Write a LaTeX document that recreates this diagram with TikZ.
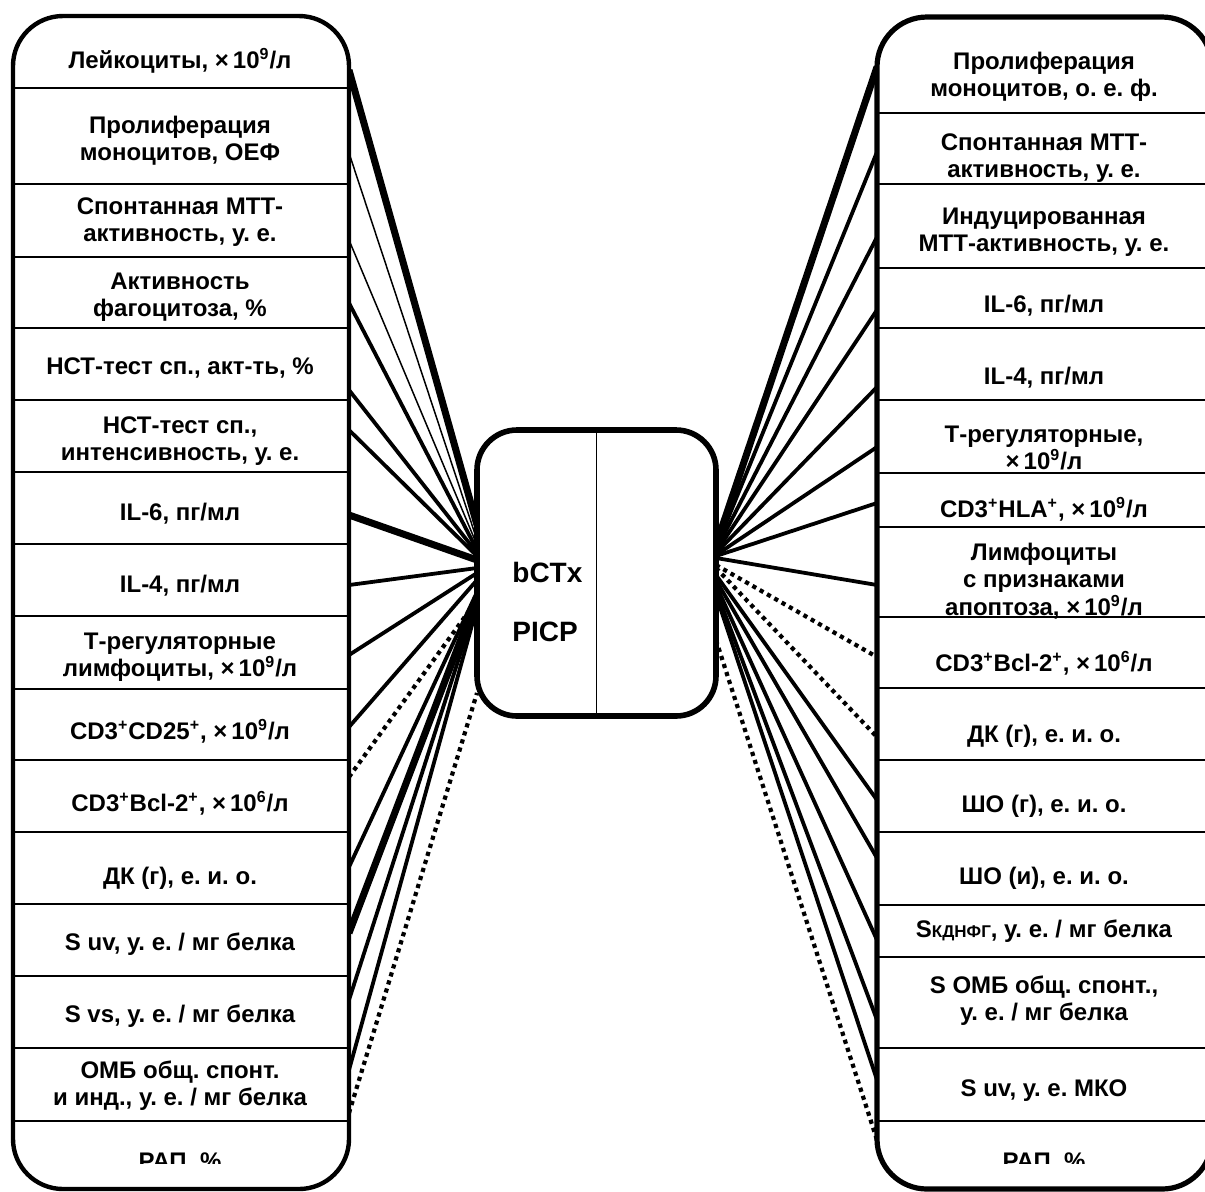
\documentclass[tikz,border=0pt]{standalone}
\usepackage{fontspec}
\setmainfont{Liberation Sans}
\frenchspacing

\begin{document}
\begin{tikzpicture}[x=0.5pt,y=-0.5pt,
    every node/.style={font=\bfseries\fontsize{12}{13.6}\selectfont,align=center,inner sep=0pt},
    frame/.style={line width=2.2pt,rounded corners=25pt,fill=white},
    rowline/.style={line width=0.9pt},
    lnkthin/.style={line width=0.75pt},
    lnk/.style={line width=1.9pt},
    lnkthick/.style={line width=3.5pt},
    lnkdot/.style={line width=2.1pt,dash pattern=on 2.1pt off 2.1pt}]
    \clip (0,0) rectangle (1205,1191);

    % Links, left side
    \foreach \i/\ya/\yb/\s in {1/70/525/lnkthick, 2/153/540/lnkthin, 3/240/545/lnkthin,
        4/303/550/lnk, 5/390/553/lnk, 6/430/556/lnk, 7/515/560/lnkthick, 8/585/568/lnk,
        9/655/573/lnk, 10/727/580/lnk, 11/777/600/lnkdot, 12/867/592/lnk, 13/933/597/lnkthick,
        14/1000/602/lnk, 15/1070/607/lnk, 16/1113/693/lnkdot}{
      \coordinate (la\i) at (349,\ya);
      \coordinate (lb\i) at (477,\yb);
      \draw[\s] (la\i) -- (lb\i);
    }

    % Links, right side
    \foreach \i/\ya/\yb/\s in {1/545/67/lnkthick, 2/548/152/lnk, 3/550/237/lnk,
        4/552/310/lnk, 5/553/387/lnk, 6/555/447/lnk, 7/556/503/lnk, 8/558/585/lnk,
        9/565/657/lnkdot, 10/568/737/lnkdot, 11/575/800/lnk, 12/580/858/lnk,
        13/585/940/lnk, 14/590/1020/lnk, 15/595/1080/lnk, 16/640/1140/lnkdot}{
      \coordinate (ra\i) at (716,\ya);
      \coordinate (rb\i) at (877,\yb);
      \draw[\s] (ra\i) -- (rb\i);
    }

    % Left column
    \draw[frame] (13,16) rectangle (349,1189);
    \foreach \y in {88,184,257,328,400,472,544,616,689,760,832,904,976,1048,1121}
      \draw[rowline] (13,\y) -- (349,\y);
    \node (l1) at (180,61) {Лейкоциты, ×\,10\textsuperscript{9}/л};
    \node (l2) at (180,141) {Пролиферация\\моноцитов, ОЕФ};
    \node (l3) at (180,222) {Спонтанная МТТ-\\активность, у.~е.};
    \node (l4) at (180,297) {Активность\\фагоцитоза, \%};
    \node (l5) at (180,368) {НСТ-тест сп., акт-ть, \%};
    \node (l6) at (180,441) {НСТ-тест сп.,\\интенсивность, у.~е.};
    \node (l7) at (180,514) {IL-6, пг/мл};
    \node (l8) at (180,586) {IL-4, пг/мл};
    \node (l9) at (180,657) {Т-регуляторные\\лимфоциты, ×\,10\textsuperscript{9}/л};
    \node (l10) at (180,731) {CD3\textsuperscript{+}CD25\textsuperscript{+}, ×\,10\textsuperscript{9}/л};
    \node (l11) at (180,803) {CD3\textsuperscript{+}Bcl-2\textsuperscript{+}, ×\,10\textsuperscript{6}/л};
    \node (l12) at (180,878) {ДК (г), е.~и.~о.};
    \node (l13) at (180,944) {S uv, у.~е. / мг белка};
    \node (l14) at (180,1016) {S vs, у.~е. / мг белка};
    \node (l15) at (180,1086) {ОМБ общ. спонт.\\и инд., у.~е. / мг белка};

    % Right column
    \draw[frame,line width=2.6pt] (877,17) rectangle (1212,1189);
    \foreach \y in {113,184,268,328,400,473,527,617,688,760,832,905,957,1048,1121}
      \draw[rowline] (877,\y) -- (1212,\y);
    \node (r1) at (1044,77) {Пролиферация\\моноцитов, о.~е.~ф.};
    \node (r2) at (1044,158) {Спонтанная МТТ-\\активность, у.~е.};
    \node (r3) at (1044,232) {Индуцированная\\МТТ-активность, у.~е.};
    \node (r4) at (1044,306) {IL-6, пг/мл};
    \node (r5) at (1044,378) {IL-4, пг/мл};
    \node (r6) at (1044,448) {Т-регуляторные,\\×\,10\textsuperscript{9}/л};
    \node (r7) at (1044,509) {CD3\textsuperscript{+}HLA\textsuperscript{+}, ×\,10\textsuperscript{9}/л};
    \node (r8) at (1044,581) {Лимфоциты\\с признаками\\апоптоза, ×\,10\textsuperscript{9}/л};
    \node (r9) at (1044,663) {CD3\textsuperscript{+}Bcl-2\textsuperscript{+}, ×\,10\textsuperscript{6}/л};
    \node (r10) at (1044,736) {ДК (г), е.~и.~о.};
    \node (r11) at (1044,806) {ШО (г), е.~и.~о.};
    \node (r12) at (1044,878) {ШО (и), е.~и.~о.};
    \node (r13) at (1044,931) {S{\fontsize{8.5}{9}\selectfont КДНФГ}, у.~е. / мг белка};
    \node (r14) at (1044,1001) {S ОМБ общ. спонт.,\\у.~е. / мг белка};
    \node (r15) at (1044,1091) {S uv, у.~е. МКО};

    % Bottom rows, cut off
    \begin{scope}
      \clip (0,0) rectangle (1205,1163);
      \node (l16) at (180,1163) {РАП, \%};
      \node (r16) at (1044,1163) {РАП, \%};
    \end{scope}

    % Centre box
    \node[draw,fill=white,line width=2.8pt,rounded corners=20pt,
      minimum width=119.5pt,minimum height=143pt] (mid) at (596.5,573) {};
    \draw[lnkthin] (mid.north) -- (mid.south);
    \node[anchor=west,font=\bfseries\fontsize{14}{14}\selectfont] (bctx) at (512,572) {bCTx};
    \node[anchor=west,font=\bfseries\fontsize{14}{14}\selectfont] (picp) at (512,632) {PICP};
\end{tikzpicture}
\end{document}
